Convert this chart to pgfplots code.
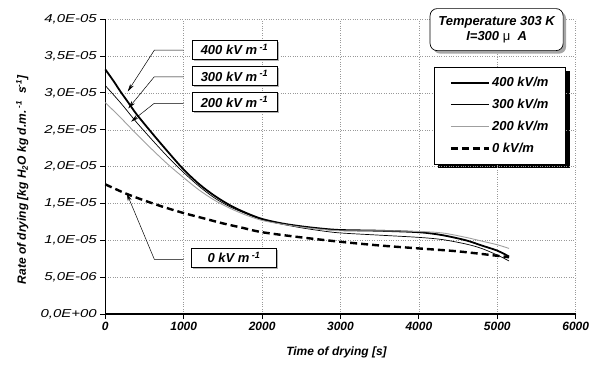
\documentclass[border=0pt]{standalone}
\usepackage{fontspec}
\setmainfont{Liberation Sans}
\newfontfamily\ytfont[FakeStretch=1.3]{Liberation Sans}
\usepackage{pgfplots}
\pgfplotsset{compat=1.18}
\usetikzlibrary{shadows,arrows.meta}
\pgfdeclarelayer{background}
\pgfsetlayers{background,main}

\pgfplotstableread{
t v
0 3.32
100 3.17
200 3.01
300 2.86
400 2.71
600 2.45
800 2.20
1000 1.96
1200 1.76
1400 1.60
1600 1.47
1800 1.37
2000 1.29
2250 1.23
2500 1.19
2750 1.16
3000 1.14
3500 1.13
4000 1.11
4300 1.07
4600 1.00
4800 0.93
5000 0.86
5150 0.78
}\kvfour

\pgfplotstableread{
t v
0 3.10
200 2.86
400 2.60
600 2.36
800 2.13
1000 1.92
1200 1.73
1400 1.57
1600 1.45
1800 1.36
2000 1.28
2250 1.22
2500 1.17
2750 1.13
3000 1.10
3500 1.07
4000 1.04
4300 1.01
4600 0.95
4800 0.89
5000 0.80
5150 0.72
}\kvthree

\pgfplotstableread{
t v
0 2.87
200 2.66
400 2.44
600 2.23
800 2.03
1000 1.85
1200 1.68
1400 1.54
1600 1.43
1800 1.34
2000 1.27
2250 1.22
2500 1.18
2750 1.15
3000 1.13
3500 1.13
4000 1.12
4300 1.10
4600 1.04
4800 0.99
5000 0.94
5150 0.89
}\kvtwo

\pgfplotstableread{
t v
0 1.76
250 1.64
500 1.54
750 1.45
1000 1.37
1250 1.30
1500 1.23
1750 1.17
2000 1.11
2500 1.04
3000 0.98
3500 0.93
4000 0.89
4500 0.85
5000 0.79
5150 0.77
}\kvzero

\begin{document}
\begin{tikzpicture}
\useasboundingbox (-105.3pt,-50pt) rectangle (490.7pt,314pt);
\begin{axis}[
  scale only axis, width=470.4pt, height=294.7pt,
  at={(0pt,0pt)}, anchor=south west,
  xmin=0, xmax=6000, ymin=0, ymax=4,
  clip=false,
  axis lines=left, axis line style={-, line width=1.3pt},
  xtick={0,1000,2000,3000,4000,5000,6000},
  xticklabels={0,1000,2000,3000,4000,5000,6000},
  ytick={0,0.5,1,1.5,2,2.5,3,3.5,4},
  yticklabels={{0,0E+00},{5,0E-06},{1,0E-05},{1,5E-05},{2,0E-05},{2,5E-05},{3,0E-05},{3,5E-05},{4,0E-05}},
  grid=major, major grid style={dotted, gray!80, line width=0.6pt},
  tick align=outside, major tick length=5pt, tick style={black, line width=1pt},
  xticklabel style={font=\fontsize{12}{14}\selectfont\bfseries\itshape},
  yticklabel style={font=\fontsize{11.5}{14}\selectfont\ytfont\itshape},
  xlabel={Time of drying [s]},
  ylabel={Rate of drying [kg H\textsubscript{2}O kg d.m.\textsuperscript{ -1}\ \ s\textsuperscript{-1}]},
  xlabel style={at={(axis description cs:0.4915,-0.129)}, anchor=center, font=\fontsize{12}{14}\selectfont\bfseries\itshape},
  ylabel style={at={(axis description cs:-0.1765,0.455)}, anchor=center, font=\fontsize{12}{14}\selectfont\bfseries\itshape},
  legend image code/.code={\draw[#1] (0pt,0pt) -- (38pt,0pt);},
  legend style={at={(axis description cs:0.979,0.838)}, anchor=north east,
    name=leg,
    draw=black, line width=0.7pt, fill=white,
    font=\fontsize{13}{15}\selectfont\bfseries\itshape,
    row sep=7pt, inner xsep=15pt, inner ysep=8pt},
  legend cell align=left,
]
\addplot[black, line width=1.8pt, smooth] table[x=t,y=v] {\kvfour};
\addlegendentry{400 kV/m}
\addplot[black, line width=0.7pt, smooth] table[x=t,y=v] {\kvthree};
\addlegendentry{300 kV/m}
\addplot[gray!75, line width=0.9pt, smooth] table[x=t,y=v] {\kvtwo};
\addlegendentry{200 kV/m}
\addplot[black, line width=2.4pt, dash pattern=on 7pt off 4pt, smooth] table[x=t,y=v] {\kvzero};
\addlegendentry{0 kV/m}

\tikzset{boxlab/.style={draw=black, line width=0.7pt, fill=white, minimum width=85pt, minimum height=19pt, inner sep=1pt,
  font=\fontsize{13}{15}\selectfont\bfseries\itshape,
  general shadow={fill=gray!60, shadow xshift=1.5pt, shadow yshift=-1.5pt}},
  leader/.style={-{Stealth[length=8pt,width=4pt]}, line width=0.5pt, black}}

\draw[leader] (axis cs:1000,3.58) -- (axis cs:625,3.58) -- (axis cs:286,3.02);
\draw[leader] (axis cs:1000,3.22) -- (axis cs:625,3.22) -- (axis cs:293,2.79);
\draw[leader] (axis cs:1000,2.86) -- (axis cs:625,2.86) -- (axis cs:328,2.61);
\draw[leader] (axis cs:1000,0.743) -- (axis cs:625,0.743) -- (axis cs:273,1.64);

\node[boxlab] at (axis cs:1648,3.59) {400 kV m\textsuperscript{ -1}};
\node[boxlab] at (axis cs:1648,3.23) {300 kV m\textsuperscript{ -1}};
\node[boxlab] at (axis cs:1648,2.88) {200 kV m\textsuperscript{ -1}};
\node[boxlab] at (axis cs:1642,0.765) {0 kV m\textsuperscript{ -1}};

\node[draw=black, line width=0.7pt, rounded corners=7pt, fill=white, align=center,
  minimum width=133pt, minimum height=42pt, inner sep=2pt,
  font=\fontsize{13}{15}\selectfont\bfseries\itshape,
  general shadow={fill=gray!70, shadow xshift=3pt, shadow yshift=-3pt}]
  at (axis cs:4991,3.86) {Temperature 303 K\\I=300 {\mdseries\upshape μ}\ \ A};
\end{axis}
\begin{pgfonlayer}{background}
\fill[black] ([shift={(4pt,-4pt)}]leg.south west) rectangle ([shift={(4pt,-4pt)}]leg.north east);
\end{pgfonlayer}
\end{tikzpicture}
\end{document}
